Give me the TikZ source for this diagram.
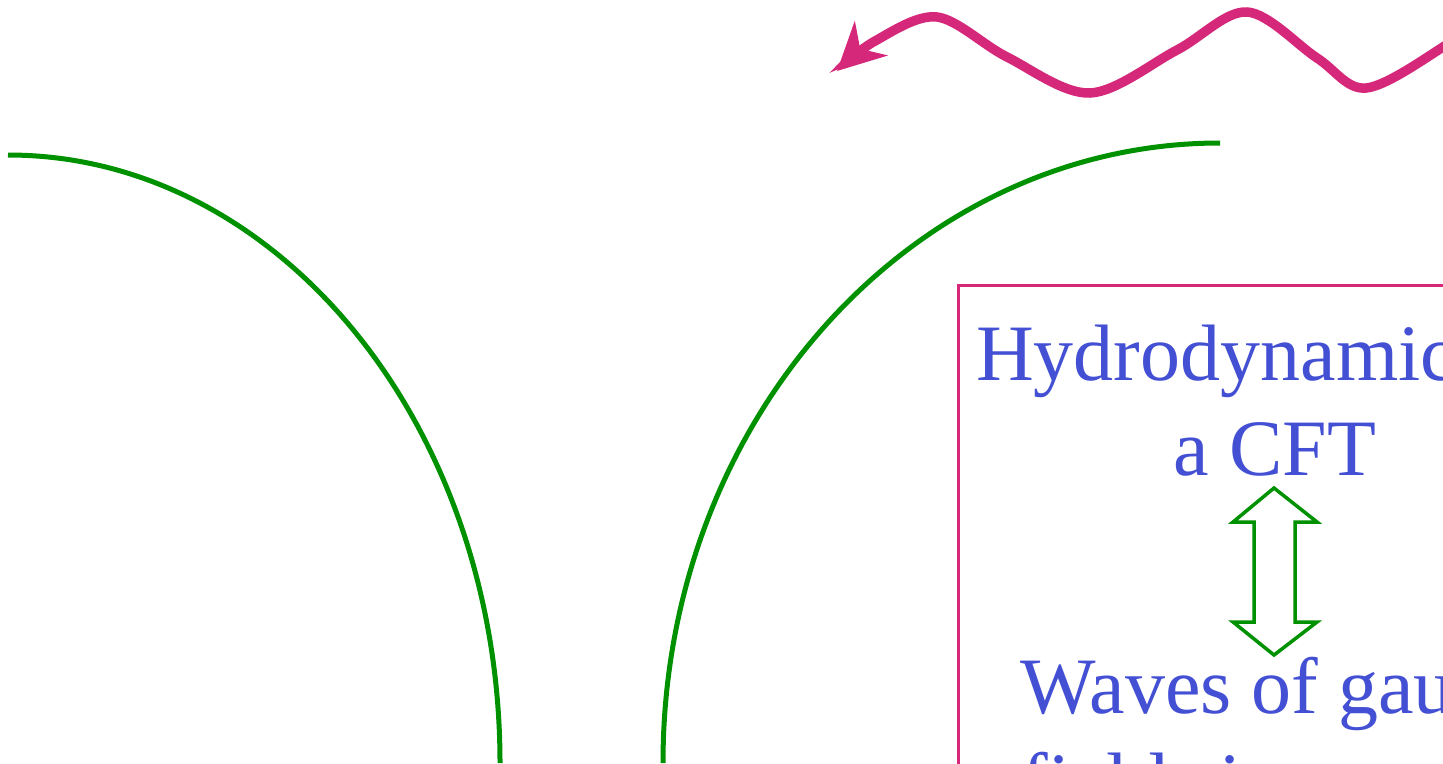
\documentclass[tikz,border=0pt]{standalone}
\usepackage{fontspec}
\setmainfont{Liberation Serif}
\usepackage{tikz}
\usetikzlibrary{arrows.meta}
\definecolor{arcgreen}{RGB}{0,145,0}
\definecolor{wavepink}{RGB}{214,40,122}
\definecolor{textblue}{RGB}{68,80,212}
\begin{document}
\begin{tikzpicture}[x=0.1mm, y=0.1mm, horizon/.style={draw=arcgreen, line width=0.5mm}, wave/.style={draw=wavepink, line width=0.95mm, -{Stealth[length=4.7mm, width=4.7mm, inset=1.5mm]}}, boxline/.style={draw=wavepink, line width=0.3mm}, dual/.style={draw=arcgreen, line width=0.35mm}, every node/.style={text=textblue, align=center, inner sep=0pt, font=\fontsize{22.76}{27}\selectfont}]
\useasboundingbox (0,0) rectangle (1443,763);
\clip (0,0) rectangle (1443,763);
\draw[horizon] (8,608) arc[start angle=90, end angle=0, x radius=492, y radius=608];
\draw[horizon] (1220,620) arc[start angle=90, end angle=180, x radius=557, y radius=620];
\coordinate (wavestart) at (1500,760);
\coordinate (wavetip) at (837,692);
\draw[wave] plot[smooth, tension=0.55] coordinates {(wavestart) (1443,716) (1366,675) (1317,705) (1247,751) (1177,713) (1090,670) (1007,706) (937,746) (875,722) (wavetip)};
\draw[boxline] (958,478) rectangle (1650,-300);
\node (hydro) at (1275,288) [anchor=base] {Hydrodynamics of\\a CFT};
\node (waves) at (1275,-45) [anchor=base] {Waves of gauge\\fields in gravity};
\draw[dual] (1274,275) -- (1317,241) -- (1295,241) -- (1295,141) -- (1317,141) -- (1274,108) -- (1233,141) -- (1254,141) -- (1254,241) -- (1233,241) -- cycle;
\end{tikzpicture}
\end{document}
